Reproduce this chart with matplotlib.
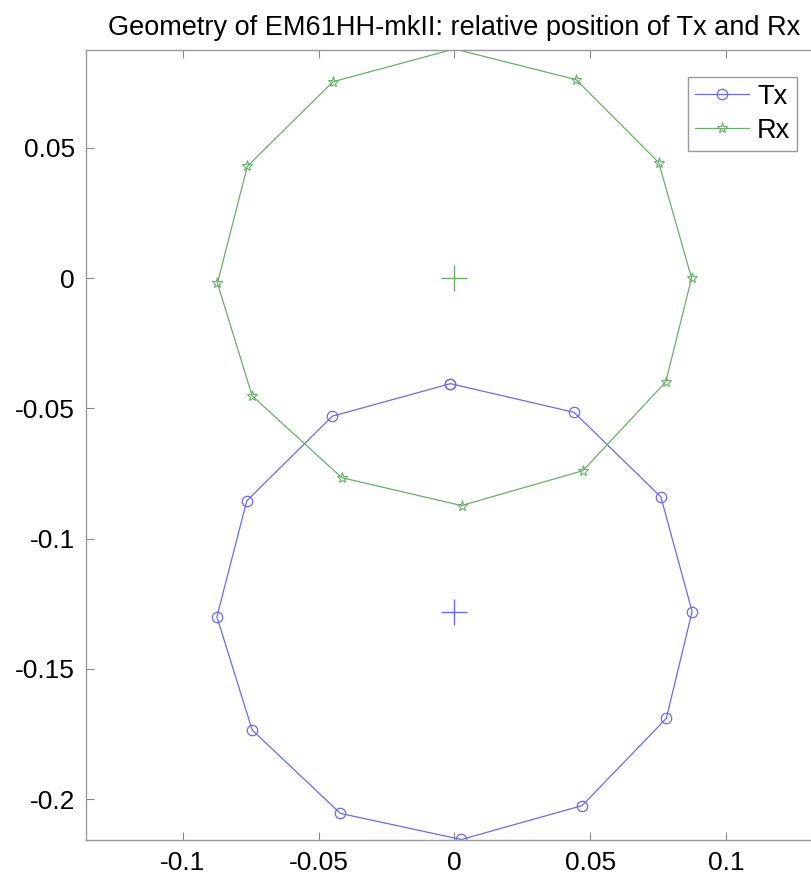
import matplotlib
matplotlib.use("Agg")
import matplotlib.pyplot as plt
import numpy as np

plt.rcParams['font.family'] = ['Liberation Sans', 'DejaVu Sans']

# Transmitter coil outline (x, y in metres), closed polygon
tx_x = [-0.0015, 0.0440, 0.0760, 0.0875, 0.0780, 0.0470, 0.0025, -0.0420, -0.0745, -0.0875, -0.0765, -0.0450, -0.0015]
tx_y = [-0.0405, -0.0515, -0.0840, -0.1280, -0.1690, -0.2025, -0.2155, -0.2055, -0.1735, -0.1300, -0.0855, -0.0530, -0.0405]

# Receiver coil outline
rx_x = [0.0000, 0.0448, 0.0752, 0.0873, 0.0778, 0.0473, 0.0026, -0.0415, -0.0745, -0.0873, -0.0763, -0.0448, 0.0000]
rx_y = [0.0880, 0.0762, 0.0444, 0.0000, -0.0398, -0.0739, -0.0873, -0.0766, -0.0452, -0.0019, 0.0429, 0.0754, 0.0880]

# Coil centres
tx_center = (0.0, -0.128)
rx_center = (0.0, 0.0)

x_ticks = [-0.1, -0.05, 0, 0.05, 0.1]
x_labels = ['-0.1', '-0.05', '0', '0.05', '0.1']
y_ticks = [0.05, 0, -0.05, -0.1, -0.15, -0.2]
y_labels = ['0.05', '0', '-0.05', '-0.1', '-0.15', '-0.2']

W, H = 812, 874
fig = plt.figure(figsize=(W / 100, H / 100), dpi=100)
left, bottom, top = 86, 34, 50
ax = fig.add_axes([left / W, bottom / H, 737 / W, (H - bottom - top) / H])

blue = '#6a6af2'
green = '#68b068'

ax.plot(tx_x, tx_y, color=blue, lw=0.9, marker='o', ms=7.5, mfc='none', mec=blue, mew=0.9, label='Tx')
# the top receiver vertex sits on the upper frame edge, its marker falls outside
ax.plot(rx_x, rx_y, color=green, lw=0.9, marker='*', ms=8, mfc='none', mec=green, mew=0.8,
        markevery=list(range(1, len(rx_x) - 1)), label='Rx')
ax.plot(*tx_center, marker='+', ms=19, color=blue, mew=1.0, ls='none')
ax.plot(*rx_center, marker='+', ms=19, color=green, mew=1.0, ls='none')

ax.set_xlim(-0.1357, 0.1357)
ax.set_ylim(-0.2157, 0.0876)

ax.set_xticks(x_ticks)
ax.set_xticklabels(x_labels)
ax.set_yticks(y_ticks)
ax.set_yticklabels(y_labels)
ax.tick_params(direction='in', length=6, width=0.8, color='#888888',
               top=True, right=True, labelsize=19, pad=8)
for s in ax.spines.values():
    s.set_color('#999999')
    s.set_linewidth(1.0)

ax.set_title('Geometry of EM61HH-mkII: relative position of Tx and Rx', fontsize=19.5, pad=11)

leg = ax.legend(loc='upper right', bbox_to_anchor=(797 / W, 1 - 77 / H),
                bbox_transform=fig.transFigure, fontsize=19.5, fancybox=False,
                framealpha=1, edgecolor='#999999', handlelength=2.0,
                borderpad=0.25, labelspacing=0.3, handletextpad=0.3, borderaxespad=0)
leg.get_frame().set_linewidth(1.0)

fig.savefig('out.png', dpi=100)
